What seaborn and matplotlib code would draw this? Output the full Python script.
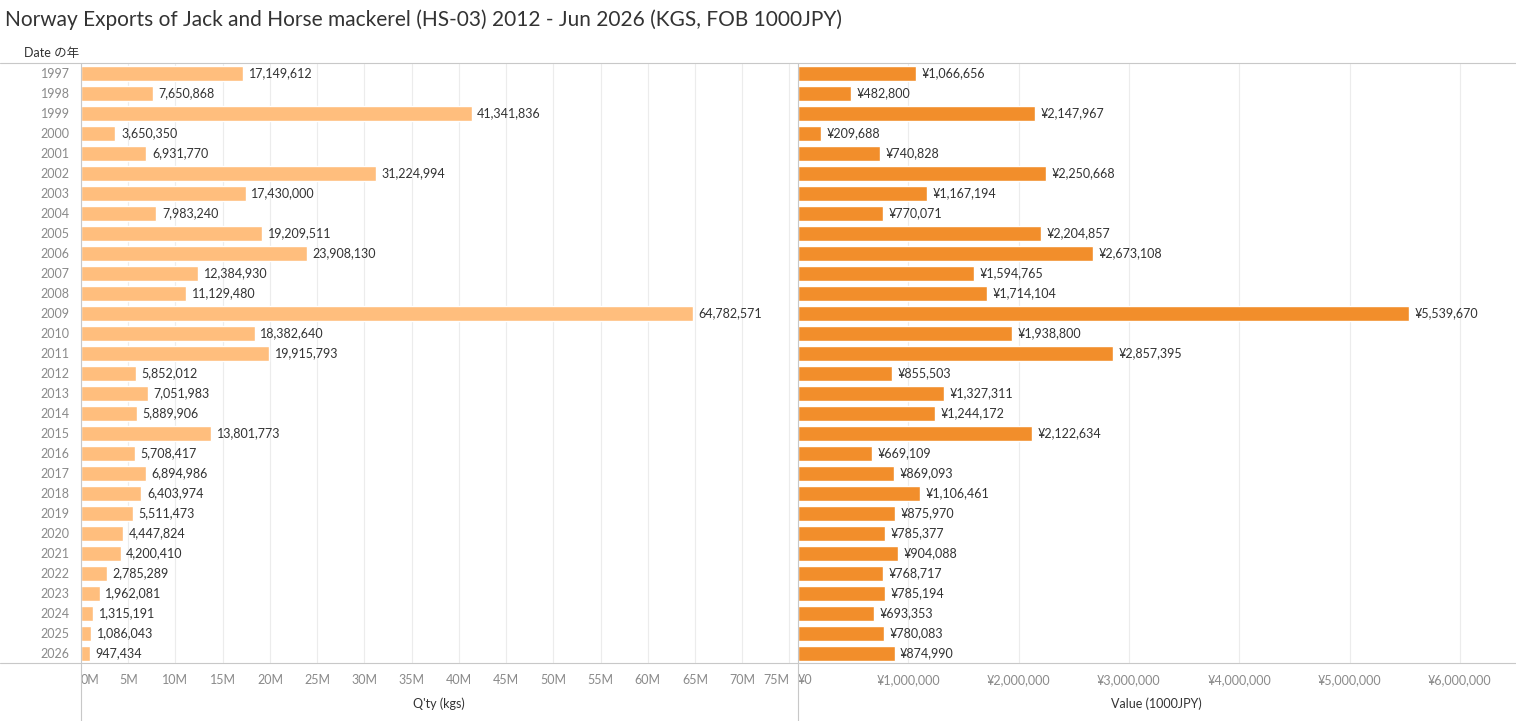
import numpy as np
import pandas as pd
import seaborn as sns
import matplotlib.pyplot as plt

# data
years = [str(y) for y in range(1997, 2027)]
qty_kgs = [17149612, 7650868, 41341836, 3650350, 6931770, 31224994, 17430000,
           7983240, 19209511, 23908130, 12384930, 11129480, 64782571, 18382640,
           19915793, 5852012, 7051983, 5889906, 13801773, 5708417, 6894986,
           6403974, 5511473, 4447824, 4200410, 2785289, 1962081, 1315191,
           1086043, 947434]
value_jpy = [1066656, 482800, 2147967, 209688, 740828, 2250668, 1167194, 770071,
             2204857, 2673108, 1594765, 1714104, 5539670, 1938800, 2857395,
             855503, 1327311, 1244172, 2122634, 669109, 869093, 1106461, 875970,
             785377, 904088, 768717, 785194, 693353, 780083, 874990]
qty_ticks = list(range(0, 80, 5))          # millions
value_ticks = list(range(0, 7))            # millions of 1000JPY

df = pd.DataFrame({'year': years, 'qty': qty_kgs, 'value': value_jpy})

sns.set_theme(style='white')
plt.rcParams['font.family'] = ['Lato', 'Noto Sans CJK JP', 'DejaVu Sans']

W, H = 1516, 721
fig = plt.figure(figsize=(W / 100, H / 100), dpi=100)

top, bottom = 63, 663
ax1 = fig.add_axes([81 / W, (H - bottom) / H, (797 - 81) / W, (bottom - top) / H])
ax2 = fig.add_axes([798 / W, (H - bottom) / H, (1515 - 798) / W, (bottom - top) / H])

sns.barplot(data=df, y='year', x='qty', color='#FFBE7D', saturation=1,
            width=0.75, orient='h', ax=ax1)
sns.barplot(data=df, y='year', x='value', color='#F28E2B', saturation=1,
            width=0.75, orient='h', ax=ax2)

for ax in (ax1, ax2):
    ax.set_ylim(len(years) - 0.5, -0.5)
    ax.set_ylabel('')
    for s in ax.spines.values():
        s.set_visible(False)
    ax.tick_params(axis='both', length=0, colors='#8a8a8a', labelsize=9)
    ax.tick_params(axis='x', pad=8)
    ax.grid(axis='x', color='#ececec', linewidth=0.8)
    ax.set_axisbelow(True)

ax1.set_xticks([t * 1e6 for t in qty_ticks], [f'{t}M' for t in qty_ticks])
ax2.set_xticks([t * 1e6 for t in value_ticks], [f'¥{t * 1000000:,}' for t in value_ticks])
ax1.set_xlim(0, 75.8e6)
ax2.set_xlim(0, 6.5e6)

# tableau keeps edge tick labels inside their pane
ax1.get_xticklabels()[0].set_ha('left')
ax1.get_xticklabels()[-1].set_ha('right')
ax2.get_xticklabels()[0].set_ha('left')

ax1.set_xlabel("Q'ty (kgs)", labelpad=8, fontsize=9, color='#333333')
ax2.set_xlabel('Value (1000JPY)', labelpad=8, fontsize=9, color='#333333')

ax1.tick_params(axis='y', pad=8)
ax2.set_yticks([])

ax1.bar_label(ax1.containers[0], labels=[f'{v:,}' for v in qty_kgs],
              padding=4, fontsize=9, color='#333333')
ax2.bar_label(ax2.containers[0], labels=[f'¥{v:,}' for v in value_jpy],
              padding=4, fontsize=9, color='#333333')

# frame lines
line_c = '#c8c8c8'
fig.add_artist(plt.Line2D([0, 1], [(H - top) / H] * 2, color=line_c, lw=0.8))
fig.add_artist(plt.Line2D([0, 1], [(H - bottom) / H] * 2, color=line_c, lw=0.8))
fig.add_artist(plt.Line2D([80.5 / W] * 2, [0, (H - top) / H], color=line_c, lw=0.8))
fig.add_artist(plt.Line2D([797.5 / W] * 2, [0, (H - top) / H], color=line_c, lw=0.8))

fig.text(5 / W, 1 - 20 / H,
         'Norway Exports of Jack and Horse mackerel (HS-03) 2012 - Jun 2026 (KGS, FOB 1000JPY)',
         fontsize=15, color='#333333', va='center', ha='left')
fig.text(24 / W, 1 - 53 / H, 'Date の年', fontsize=9, color='#333333',
         va='center', ha='left')

fig.savefig('out.png', dpi=100)
